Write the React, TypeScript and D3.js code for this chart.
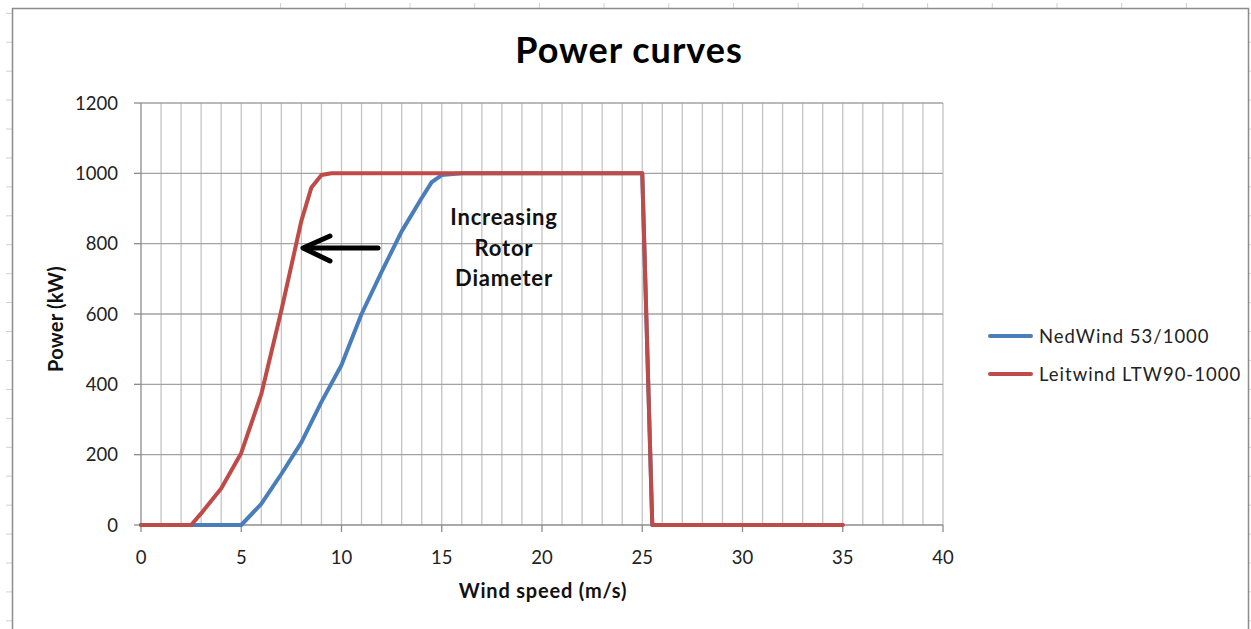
import React from "react";
import * as d3 from "d3";

const nedWindSpeed = [0, 1, 2, 3, 4, 5, 6, 7, 8, 9, 10, 11, 12, 13, 14, 14.5, 15, 16, 17, 18, 19, 20, 21, 22, 23, 24, 25, 25.5, 26, 30, 35];
const nedWindPower = [0, 0, 0, 0, 0, 0, 60, 145, 235, 350, 455, 600, 720, 835, 930, 975, 995, 1000, 1000, 1000, 1000, 1000, 1000, 1000, 1000, 1000, 1000, 0, 0, 0, 0];

const leitSpeed = [0, 1, 2, 2.5, 3, 4, 5, 6, 7, 8, 8.5, 9, 9.5, 10, 11, 12, 13, 14, 15, 16, 17, 18, 19, 20, 21, 22, 23, 24, 25, 25.5, 26, 27, 28, 29, 30, 31, 32, 33, 34, 35];
const leitPower = [0, 0, 0, 0, 33, 104, 205, 372, 610, 865, 960, 995, 1000, 1000, 1000, 1000, 1000, 1000, 1000, 1000, 1000, 1000, 1000, 1000, 1000, 1000, 1000, 1000, 1000, 0, 0, 0, 0, 0, 0, 0, 0, 0, 0, 0];

const seriesNames = ["NedWind 53/1000", "Leitwind LTW90-1000"];
const seriesColors = ["#4a7ebb", "#be4b48"];

const xTicks = [0, 5, 10, 15, 20, 25, 30, 35, 40];
const yTicks = [0, 200, 400, 600, 800, 1000, 1200];
const annotationLines = ["Increasing", "Rotor", "Diameter"];

const W = 1251;
const H = 629;
const FONT = "Lato, 'Open Sans', 'DejaVu Sans', sans-serif";

export default function App() {
  const x = d3.scaleLinear().domain([0, 40]).range([141, 943]);
  const y = d3.scaleLinear().domain([0, 1200]).range([525, 103]);

  const line = d3
    .line<[number, number]>()
    .x((d) => x(d[0]))
    .y((d) => y(d[1]));

  const ned: [number, number][] = nedWindSpeed.map((s, i) => [s, nedWindPower[i]]);
  const leit: [number, number][] = leitSpeed.map((s, i) => [s, leitPower[i]]);

  const minorX = d3.range(1, 41);
  const rowTicks = d3.range(0, 22).map((i) => 13.3 + i * 28.93);
  const colTicks = d3.range(0, 15).map((i) => 280.6 + i * 64.7);

  return (
    <svg
      width={W}
      height={H}
      style={{ position: "absolute", left: 0, top: 0, background: "#fff" }}
      fontFamily={FONT}
    >
      {/* spreadsheet cell marks behind the chart */}
      {rowTicks.map((ry, i) => (
        <g key={"r" + i}>
          <line x1={6} x2={12} y1={ry} y2={ry} stroke="#d0d0d0" strokeWidth={1} />
          <line x1={1248} x2={1251} y1={ry} y2={ry} stroke="#d0d0d0" strokeWidth={1} />
        </g>
      ))}
      {colTicks.map((cx, i) => (
        <line key={"c" + i} x1={cx} x2={cx} y1={3} y2={8} stroke="#d0d0d0" strokeWidth={1} />
      ))}

      {/* chart frame */}
      <path d={`M12.5,${H + 2} V8.5 H1248.5 V${H + 2}`} fill="#fff" stroke="#8c8c8c" strokeWidth={1.5} />

      {/* title */}
      <text x={629} y={63} textAnchor="middle" fontSize={36} fontWeight="bold" letterSpacing={1} fill="#000">
        Power curves
      </text>

      {/* vertical gridlines */}
      {minorX.map((v) => (
        <line key={"vx" + v} x1={x(v)} x2={x(v)} y1={y(1200)} y2={y(0)} stroke="#c4c4c4" strokeWidth={1.3} />
      ))}
      {/* horizontal gridlines */}
      {yTicks.slice(1).map((v) => (
        <line key={"hy" + v} x1={x(0)} x2={x(40)} y1={y(v)} y2={y(v)} stroke="#a2a2a2" strokeWidth={1.3} />
      ))}

      {/* axes */}
      <line x1={x(0)} x2={x(0)} y1={y(1200)} y2={y(0)} stroke="#8c8c8c" strokeWidth={1.3} />
      <line x1={x(0)} x2={x(40)} y1={y(0)} y2={y(0)} stroke="#8c8c8c" strokeWidth={1.3} />
      {yTicks.map((v) => (
        <g key={"yt" + v}>
          <line x1={x(0) - 7} x2={x(0)} y1={y(v)} y2={y(v)} stroke="#8c8c8c" strokeWidth={1.3} />
          <text x={118} y={y(v)} dy="0.36em" textAnchor="end" fontSize={18.5} fill="#222">
            {v}
          </text>
        </g>
      ))}
      {xTicks.map((v) => (
        <g key={"xt" + v}>
          <line x1={x(v)} x2={x(v)} y1={y(0)} y2={y(0) + 7} stroke="#8c8c8c" strokeWidth={1.3} />
          <text x={x(v)} y={564} textAnchor="middle" fontSize={18.5} fill="#222">
            {v}
          </text>
        </g>
      ))}

      {/* axis titles */}
      <text x={543} y={598} textAnchor="middle" fontSize={20} fontWeight="bold" letterSpacing={0.8} fill="#111">
        Wind speed (m/s)
      </text>
      <text
        transform={`translate(63,319) rotate(-90)`}
        textAnchor="middle"
        fontSize={20}
        fontWeight="bold"
        letterSpacing={0.2}
        fill="#111"
      >
        Power (kW)
      </text>

      {/* series */}
      <path d={line(ned) || ""} fill="none" stroke={seriesColors[0]} strokeWidth={4} strokeLinejoin="round" strokeLinecap="round" />
      <path d={line(leit) || ""} fill="none" stroke={seriesColors[1]} strokeWidth={4} strokeLinejoin="round" strokeLinecap="round" />

      {/* annotation arrow */}
      <g stroke="#000" strokeWidth={5} fill="none" strokeLinecap="round" strokeLinejoin="round">
        <line x1={378} y1={248} x2={305} y2={248} />
        <polyline points="330,236 303,248 330,261" />
      </g>
      {annotationLines.map((t, i) => (
        <text key={t} x={504} y={225 + i * 30.5} textAnchor="middle" fontSize={22} fontWeight="bold" letterSpacing={0.8} fill="#111">
          {t}
        </text>
      ))}

      {/* legend */}
      {seriesNames.map((n, i) => (
        <g key={n} transform={`translate(0, ${336 + i * 38})`}>
          <line x1={990} x2={1031} y1={0} y2={0} stroke={seriesColors[i]} strokeWidth={4} strokeLinecap="round" />
          <text x={1039} y={0} dy="0.36em" fontSize={18.5} letterSpacing={1} fill="#222">
            {n}
          </text>
        </g>
      ))}
    </svg>
  );
}
